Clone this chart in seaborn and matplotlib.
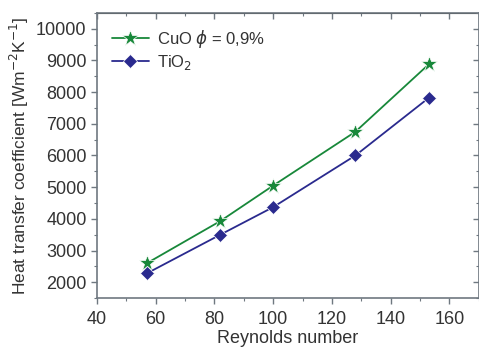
import seaborn as sns
import pandas as pd
import matplotlib
matplotlib.use("Agg")
from matplotlib import pyplot as plt
from matplotlib.ticker import MultipleLocator

# values
reynolds = [57, 82, 100, 128, 153]
cuo_h = [2600, 3930, 5050, 6750, 8880]
tio2_h = [2280, 3500, 4370, 6000, 7820]
series_names = ["CuO $\\phi$ = 0,9%", "TiO$_2$"]

sns.set_style("ticks")
plt.rcParams["font.family"] = ["Liberation Sans", "DejaVu Sans"]
plt.rcParams["mathtext.fontset"] = "dejavusans"

text_col = "#333333"
spine_col = "#6f7880"
colors = ["#18883a", "#2a2a8e"]

fig = plt.figure(figsize=(4.79, 3.49), dpi=100)
ax = fig.add_axes([0.2025, 0.146, 0.797, 0.817])

sns.lineplot(x=reynolds, y=cuo_h, color=colors[0], marker="*", markersize=12,
             markeredgewidth=0.5, linewidth=1.3, label=series_names[0], ax=ax)
sns.lineplot(x=reynolds, y=tio2_h, color=colors[1], marker="D", markersize=7,
             markeredgewidth=0.5, linewidth=1.3, label=series_names[1], ax=ax)

ax.set_xlim(40, 170)
ax.set_ylim(1500, 10500)
ax.xaxis.set_major_locator(MultipleLocator(20))
ax.xaxis.set_minor_locator(MultipleLocator(10))
ax.yaxis.set_major_locator(MultipleLocator(1000))
ax.yaxis.set_minor_locator(MultipleLocator(500))

for s in ax.spines.values():
    s.set_visible(True)
    s.set_color(spine_col)
    s.set_linewidth(1.2)

ax.tick_params(which="both", direction="out", colors=spine_col,
               labelcolor=text_col, labelsize=13, bottom=True, left=True)
ax.tick_params(which="major", length=4, width=1)
ax.tick_params(which="minor", length=2.5, width=0.8)
ax.tick_params(axis="x", pad=5)

top = ax.secondary_xaxis("top")
top.xaxis.set_major_locator(MultipleLocator(20))
top.xaxis.set_minor_locator(MultipleLocator(10))
top.tick_params(which="both", direction="in", colors=spine_col, top=True, labeltop=False)
top.tick_params(which="major", length=4, width=1)
top.tick_params(which="minor", length=2.5, width=0.8)
right = ax.secondary_yaxis("right")
right.yaxis.set_major_locator(MultipleLocator(1000))
right.yaxis.set_minor_locator(MultipleLocator(500))
right.tick_params(which="both", direction="in", colors=spine_col, right=True, labelright=False)
right.tick_params(which="major", length=4, width=1)
right.tick_params(which="minor", length=2.5, width=0.8)

ax.set_xlabel("Reynolds number", fontsize=13, color=text_col, labelpad=2)
ax.set_ylabel("Heat transfer coefficient [Wm$^{-2}$K$^{-1}$]", fontsize=12.5,
              color=text_col, labelpad=4)

leg = ax.legend(loc="upper left", frameon=False, fontsize=12, handlelength=2.2,
                borderaxespad=0.5, labelspacing=0.2, handletextpad=0.5)
for t in leg.get_texts():
    t.set_color(text_col)

plt.savefig("out.png", dpi=100)
